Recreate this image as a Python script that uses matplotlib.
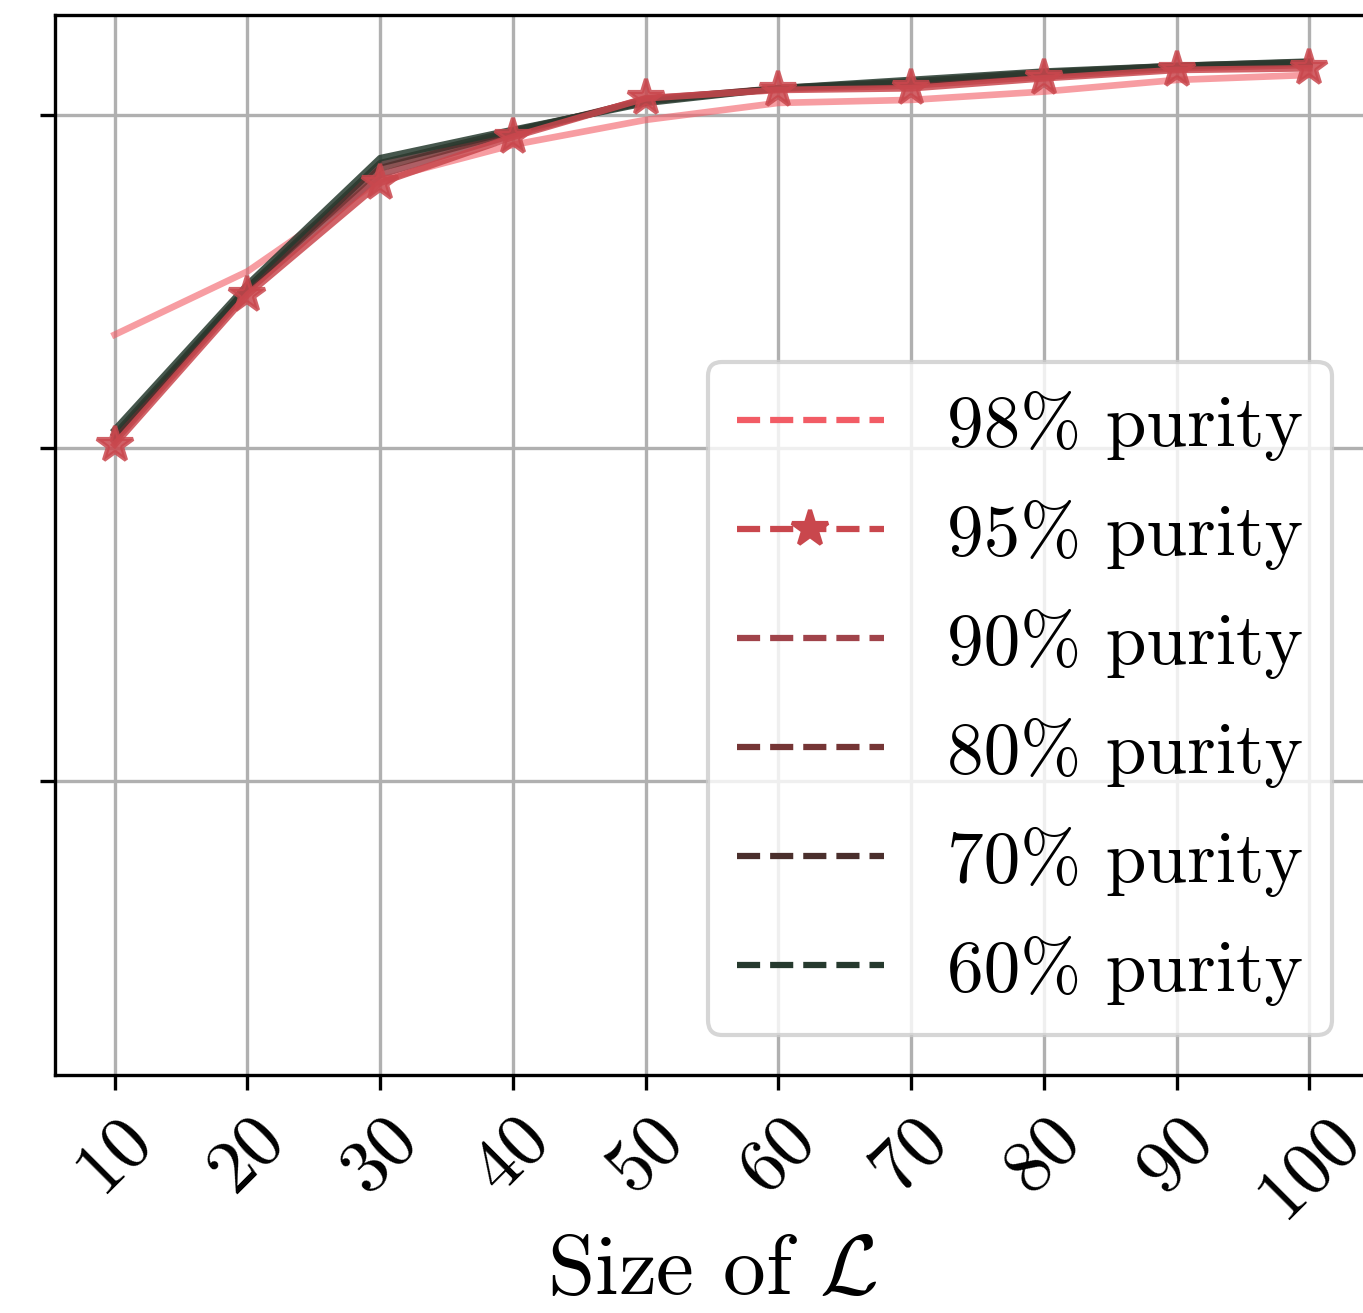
import matplotlib.pyplot as plt
from matplotlib.lines import Line2D

plt.rcParams['font.family'] = 'serif'
plt.rcParams['font.serif'] = ['cmr10']
plt.rcParams['mathtext.fontset'] = 'cm'
plt.rcParams['axes.formatter.use_mathtext'] = True

sizes = [10, 20, 30, 40, 50, 60, 70, 80, 90, 100]
purity_labels = ['98% purity', '95% purity', '90% purity', '80% purity', '70% purity', '60% purity']
purity_colors = ['#f25c65', '#c9474d', '#a0434a', '#753535', '#4a2f2c', '#263a2e']

acc_98 = [0.834, 0.853, 0.8805, 0.891, 0.8985, 0.9036, 0.9045, 0.907, 0.9105, 0.912]
acc_95 = [0.801, 0.846, 0.8796, 0.8934, 0.905, 0.9075, 0.908, 0.911, 0.9135, 0.914]
acc_90 = [0.802, 0.847, 0.8820, 0.8940, 0.9048, 0.9078, 0.9088, 0.9115, 0.9140, 0.9150]
acc_80 = [0.803, 0.848, 0.8840, 0.8948, 0.9045, 0.9080, 0.9095, 0.9122, 0.9145, 0.9155]
acc_70 = [0.804, 0.848, 0.8855, 0.8952, 0.9040, 0.9080, 0.9100, 0.9127, 0.9147, 0.9158]
acc_60 = [0.8054, 0.849, 0.887, 0.8955, 0.9036, 0.908, 0.9105, 0.913, 0.9147, 0.916]

fig = plt.figure(figsize=(1363 / 300, 1313 / 300), dpi=300)
ax = fig.add_axes([55 / 1363, 1 - 1075 / 1313, 1314 / 1363, 1060 / 1313])

all_acc = [acc_98, acc_95, acc_90, acc_80, acc_70, acc_60]
for i, (acc, color) in enumerate(zip(all_acc, purity_colors)):
    if i == 1:
        ax.plot(sizes, acc, color=color, lw=1.6, marker='*', ms=9, alpha=0.85, zorder=5)
    elif i == 0:
        ax.plot(sizes, acc, color=color, lw=1.6, alpha=0.6, zorder=3)
    else:
        ax.plot(sizes, acc, color=color, lw=1.6, alpha=0.85, zorder=4)

ax.set_xlim(5.5, 104.5)
ax.set_ylim(0.6117, 0.930)
ax.set_xticks(sizes)
ax.set_xticklabels([str(s) for s in sizes], rotation=45, fontsize=18)
ax.set_yticks([0.7, 0.8, 0.9])
ax.set_yticklabels([])
ax.grid(True, color='#b0b0b0', lw=0.8)
ax.set_axisbelow(True)
ax.set_xlabel(r'Size of $\mathcal{L}$', fontsize=20.5, labelpad=1)

handles = []
for i, (lab, color) in enumerate(zip(purity_labels, purity_colors)):
    if i == 1:
        handles.append(Line2D([], [], color=color, ls='--', lw=1.5, marker='*', ms=9, label=lab))
    else:
        handles.append(Line2D([], [], color=color, ls='--', lw=1.5, label=lab))
ax.legend(handles=handles, loc='lower right', bbox_to_anchor=(1332 / 1363, 1 - 1035 / 1313),
          bbox_transform=fig.transFigure, borderaxespad=0, fontsize=17.6,
          handlelength=2.0, handletextpad=0.86, labelspacing=0.53, numpoints=1)

fig.savefig('out.png', dpi=300)
